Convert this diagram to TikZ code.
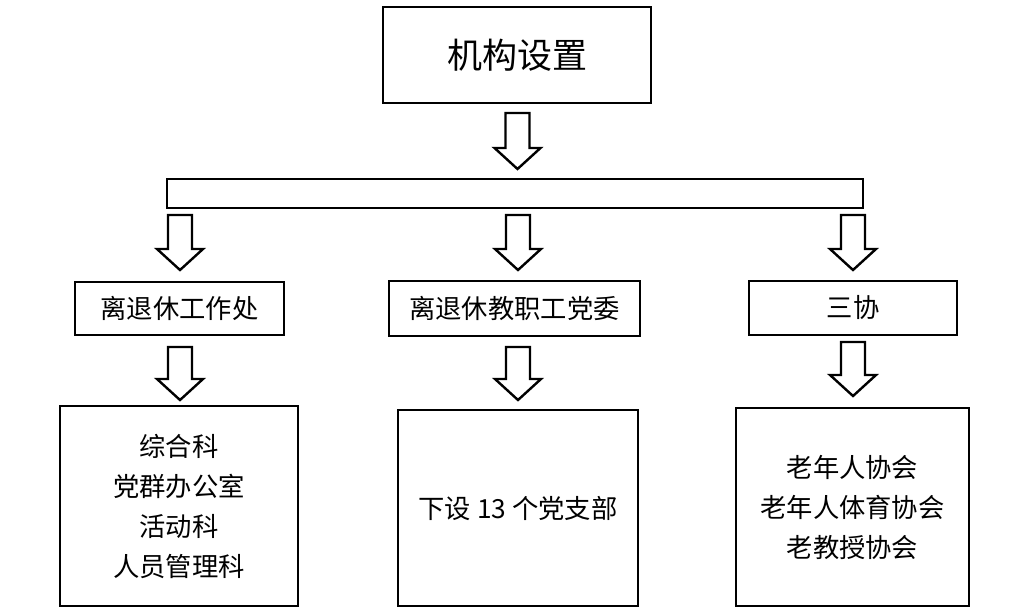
\documentclass[tikz,border=0pt]{standalone}
\usepackage{fontspec}
\newfontfamily\cjk{Noto Sans CJK SC}
\begin{document}
\begin{tikzpicture}[x=1pt,y=-1pt,
  box/.style={draw,line width=2.6pt,inner sep=0pt,font=\cjk\fontsize{26.3}{40}\selectfont,align=center},
  arr/.style={draw,line width=2.4pt,fill=white,line join=miter}]
\useasboundingbox (0,0) rectangle (1019,610);
\newcommand\barrow[3]{\draw[arr] (#1-12,#2) -- (#1+12,#2) -- (#1+12,#3-21) -- (#1+23,#3-21) -- (#1,#3) -- (#1-23,#3-21) -- (#1-12,#3-21) -- cycle;}
\node[box,minimum width=268,minimum height=96,font=\cjk\fontsize{35}{40}\selectfont] (top) at (517,55) {机构设置};
\node[box,minimum width=696,minimum height=29] (bar) at (515,193.5) {};
\node[box,minimum width=209,minimum height=53] (a) at (179.5,308.5) {离退休工作处};
\node[box,minimum width=251,minimum height=55] (b) at (514.5,308.5) {离退休教职工党委};
\node[box,minimum width=208,minimum height=54] (c) at (853,308) {三协};
\node[box,minimum width=238,minimum height=200] (a2) at (179,506) {综合科\\党群办公室\\活动科\\人员管理科};
\node[box,minimum width=240,minimum height=196] (b2) at (518,508) {下设 13 个党支部};
\node[box,minimum width=233,minimum height=198] (c2) at (852.5,507) {老年人协会\\老年人体育协会\\老教授协会};
\barrow{517.5}{113}{169}
\barrow{180}{215}{270}
\barrow{518}{215}{270}
\barrow{853}{215}{270}
\barrow{180}{347}{400}
\barrow{518}{347}{400}
\barrow{853}{342}{396}
\end{tikzpicture}
\end{document}
